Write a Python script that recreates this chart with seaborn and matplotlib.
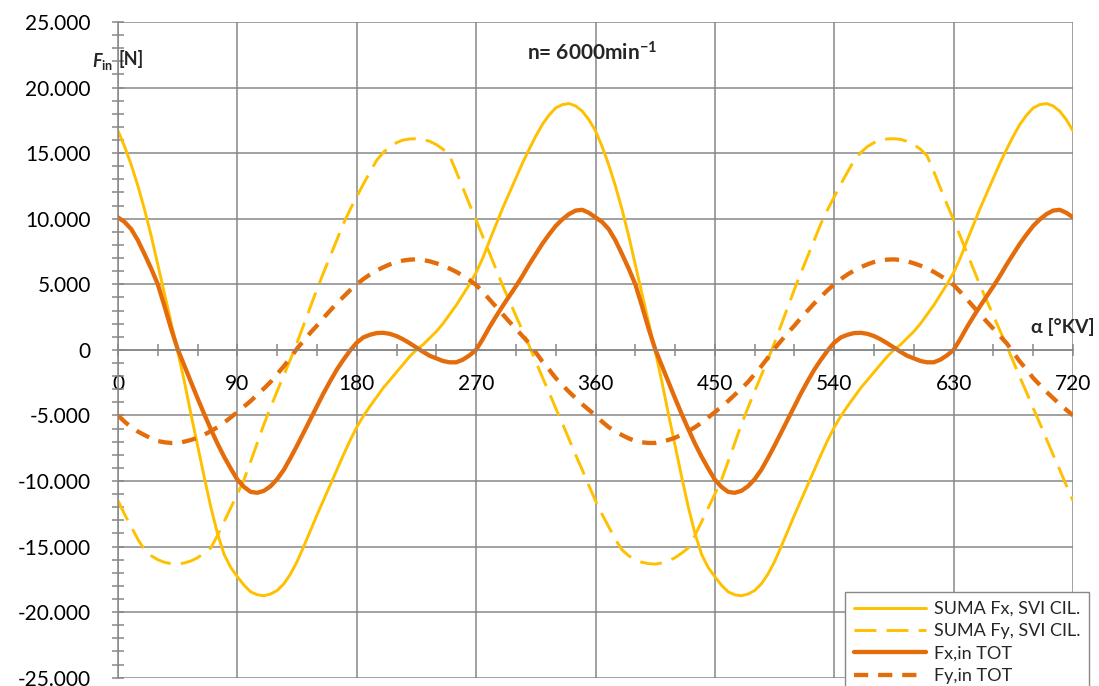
import matplotlib
matplotlib.use('Agg')
import matplotlib.pyplot as plt
import matplotlib.ticker as mticker
import seaborn as sns

# ================================================
# Inertia forces vs crank angle, n = 6000 min^-1
# values, every 5 deg
# ================================================

alpha = list(range(0, 721, 5))

suma_fx = [
    16700, 15500, 14100, 12500, 10700, 8700, 6500, 4300, 2100, -100,
    -2400, -4900, -7300, -9700, -12000, -14000, -15600, -16600, -17300, -17950,
    -18450, -18680, -18750, -18620, -18350, -17850, -17100, -16150, -15000, -13800,
    -12600, -11450, -10300, -9150, -8000, -6900, -5900, -5050, -4300, -3600,
    -2900, -2300, -1700, -1100, -500, 0, 400, 900, 1400, 2000,
    2700, 3400, 4200, 5000, 5900, 7000, 8300, 9550, 10800, 11950,
    13100, 14250, 15300, 16300, 17200, 17900, 18450, 18700, 18780, 18600,
    18200, 17550,
    16700, 15500, 14100, 12500, 10700, 8700, 6500, 4300, 2100, -100,
    -2400, -4900, -7300, -9700, -12000, -14000, -15600, -16600, -17300, -17950,
    -18450, -18680, -18750, -18620, -18350, -17850, -17100, -16150, -15000, -13800,
    -12600, -11450, -10300, -9150, -8000, -6900, -5900, -5050, -4300, -3600,
    -2900, -2300, -1700, -1100, -500, 0, 400, 900, 1400, 2000,
    2700, 3400, 4200, 5000, 5900, 7000, 8300, 9550, 10800, 11950,
    13100, 14250, 15300, 16300, 17200, 17900, 18450, 18700, 18780, 18600,
    18200, 17550, 16700]

suma_fy = [
    -11500, -12550, -13500, -14450, -15250, -15700, -16000, -16200, -16300, -16340,
    -16250, -16100, -15850, -15500, -15100, -14150, -13100, -12050, -11000, -9900,
    -8520, -7100, -5680, -4400, -3150, -1950, -730, 550, 1900, 3250,
    4620, 5900, 7140, 8400, 9630, 10700, 11680, 12650, 13560, 14450,
    15050, 15500, 15800, 16000, 16080, 16100, 16050, 15900, 15650, 15300,
    14800, 13600, 12350, 11100, 9900, 8650, 7400, 6150, 4900, 3750,
    2600, 1450, 300, -900, -2100, -3250, -4450, -5600, -6800, -8000,
    -9150, -10350,
    -11500, -12550, -13500, -14450, -15250, -15700, -16000, -16200, -16300, -16340,
    -16250, -16100, -15850, -15500, -15100, -14150, -13100, -12050, -11000, -9900,
    -8520, -7100, -5680, -4400, -3150, -1950, -730, 550, 1900, 3250,
    4620, 5900, 7140, 8400, 9630, 10700, 11680, 12650, 13560, 14450,
    15050, 15500, 15800, 16000, 16080, 16100, 16050, 15900, 15650, 15300,
    14800, 13600, 12350, 11100, 9900, 8650, 7400, 6150, 4900, 3750,
    2600, 1450, 300, -900, -2100, -3250, -4450, -5600, -6800, -8000,
    -9150, -10350, -11500]

fx_in_tot = [
    10100, 9750, 9200, 8350, 7300, 6200, 5000, 3350, 1630, 50,
    -1200, -2450, -3700, -4900, -6050, -7150, -8150, -9050, -9900, -10450,
    -10830, -10900, -10750, -10400, -9860, -9150, -8250, -7300, -6300, -5300,
    -4300, -3300, -2380, -1500, -750, -50, 550, 950, 1150, 1280,
    1300, 1220, 1050, 800, 500, 170, -150, -450, -650, -850,
    -950, -950, -750, -420, 0, 820, 1720, 2550, 3340, 4100,
    4850, 5650, 6510, 7300, 8100, 8800, 9450, 9950, 10350, 10620,
    10680, 10450,
    10100, 9750, 9200, 8350, 7300, 6200, 5000, 3350, 1630, 50,
    -1200, -2450, -3700, -4900, -6050, -7150, -8150, -9050, -9900, -10450,
    -10830, -10900, -10750, -10400, -9860, -9150, -8250, -7300, -6300, -5300,
    -4300, -3300, -2380, -1500, -750, -50, 550, 950, 1150, 1280,
    1300, 1220, 1050, 800, 500, 170, -150, -450, -650, -850,
    -950, -950, -750, -420, 0, 820, 1720, 2550, 3340, 4100,
    4850, 5650, 6510, 7300, 8100, 8800, 9450, 9950, 10350, 10620,
    10680, 10450, 10100]

fy_in_tot = [
    -5000, -5480, -5900, -6230, -6500, -6750, -6950, -7050, -7100, -7100,
    -7000, -6870, -6700, -6470, -6200, -5900, -5550, -5150, -4750, -4330,
    -3900, -3430, -2950, -2450, -1850, -1250, -600, 100, 700, 1300,
    1850, 2450, 3000, 3550, 4050, 4550, 5000, 5400, 5750, 6050,
    6300, 6520, 6700, 6810, 6880, 6900, 6850, 6750, 6600, 6420,
    6200, 5950, 5650, 5320, 4950, 4420, 3850, 3270, 2700, 2150,
    1600, 1050, 500, -200, -900, -1500, -2150, -2680, -3200, -3680,
    -4150, -4580,
    -5000, -5480, -5900, -6230, -6500, -6750, -6950, -7050, -7100, -7100,
    -7000, -6870, -6700, -6470, -6200, -5900, -5550, -5150, -4750, -4330,
    -3900, -3430, -2950, -2450, -1850, -1250, -600, 100, 700, 1300,
    1850, 2450, 3000, 3550, 4050, 4550, 5000, 5400, 5750, 6050,
    6300, 6520, 6700, 6810, 6880, 6900, 6850, 6750, 6600, 6420,
    6200, 5950, 5650, 5320, 4950, 4420, 3850, 3270, 2700, 2150,
    1600, 1050, 500, -200, -900, -1500, -2150, -2680, -3200, -3680,
    -4150, -4580, -5000]

sns.set_theme(style='white')
plt.rcParams['font.family'] = ['Lato', 'DejaVu Sans']
plt.rcParams['mathtext.fontset'] = 'custom'
plt.rcParams['mathtext.rm'] = 'Lato'
plt.rcParams['mathtext.it'] = 'Lato:italic:bold'
plt.rcParams['mathtext.bf'] = 'Lato:bold'

yellow = '#FFC000'
orange = '#E46C0A'
grid_color = '#878787'

fig, ax = plt.subplots(figsize=(10.99, 6.86), dpi=100)
fig.subplots_adjust(left=118 / 1099, right=1073 / 1099,
                    top=1 - 22 / 686, bottom=1 - 677.7 / 686)

# curves
sns.lineplot(x=alpha, y=suma_fx, color=yellow, lw=2.1,
             label='SUMA Fx, SVI CIL.', ax=ax)
sns.lineplot(x=alpha, y=suma_fy, color=yellow, lw=2.1, linestyle=(0, (7.5, 3.5)),
             label='SUMA Fy, SVI CIL.', ax=ax)
sns.lineplot(x=alpha, y=fx_in_tot, color=orange, lw=3.1,
             label='Fx,in TOT', ax=ax)
sns.lineplot(x=alpha, y=fy_in_tot, color=orange, lw=3.1, linestyle=(0, (3.3, 2.3)),
             label='Fy,in TOT', ax=ax)

# axes
ax.set_xlim(0, 720)
ax.set_ylim(-25000, 25000)
ax.xaxis.set_major_locator(mticker.MultipleLocator(90))
ax.xaxis.set_minor_locator(mticker.MultipleLocator(30))
ax.yaxis.set_major_locator(mticker.MultipleLocator(5000))
ax.yaxis.set_minor_locator(mticker.MultipleLocator(1000))
ax.yaxis.set_major_formatter(mticker.FuncFormatter(
    lambda v, p: f'{v:,.0f}'.replace(',', '.')))
ax.set_xlabel('')
ax.set_ylabel('')

ax.grid(True, which='major', color=grid_color, lw=1.1)
ax.set_axisbelow(True)
ax.spines['left'].set_position(('data', 0))
ax.spines['bottom'].set_position(('data', 0))
for side in ['top', 'right']:
    ax.spines[side].set_visible(False)
for side in ['left', 'bottom']:
    ax.spines[side].set_color(grid_color)
    ax.spines[side].set_linewidth(1.1)

ax.tick_params(which='both', direction='inout', color=grid_color, width=1.1,
               length=9, left=True, bottom=True)
ax.tick_params(axis='y', labelsize=15, pad=15, labelcolor='black')
ax.tick_params(axis='x', labelsize=15, pad=13, labelcolor='black')

# texts
fig.text(92 / 1099, 1 - 61 / 686, r'$F_{\mathbf{in}}$',
         fontsize=13, fontweight='bold', ha='left', va='center')
fig.text(118 / 1099, 1 - 59 / 686, '[N]',
         fontsize=13, fontweight='bold', ha='left', va='center')
fig.text(592 / 1099, 1 - 53 / 686, r'n= 6000min$^{\mathbf{-1}}$',
         fontsize=15, fontweight='bold', ha='center', va='center')
fig.text(1095 / 1099, 1 - 327 / 686, 'α [°KV]',
         fontsize=14, fontweight='bold', ha='right', va='center')

# legend
ax.legend(loc='upper left', bbox_to_anchor=(836 / 1099, 1 - 583 / 686),
          bbox_transform=fig.transFigure, frameon=True, fancybox=False,
          framealpha=1, edgecolor=grid_color, fontsize=13,
          handlelength=4, handletextpad=0.4, labelspacing=0.35, borderpad=0.5)

plt.savefig('out.png', dpi=100)
